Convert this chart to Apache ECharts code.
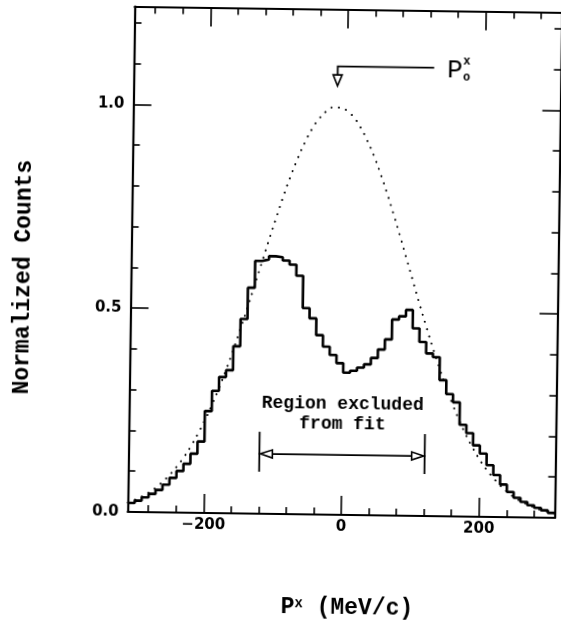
<!DOCTYPE html>
<html><head><meta charset="utf-8">
<script src="https://cdn.jsdelivr.net/npm/echarts@6/dist/echarts.min.js"></script>
<style>html,body{margin:0;padding:0;background:#fff;overflow:hidden}#c{width:561px;height:625px;transform:rotate(0.8deg);transform-origin:50% 50%}</style>
</head><body><div id="c"></div>
<script>
// histogram: left bin edges (width 10 MeV/c) and normalized counts
const binEdges = [-310,-300,-290,-280,-270,-260,-250,-240,-230,-220,-210,-200,-190,-180,-170,-160,-150,-140,-130,-120,-110,-100,-90,-80,-70,-60,-50,-40,-30,-20,-10,0,10,20,30,40,50,60,70,80,90,100,110,120,130,140,150,160,170,180,190,200,210,220,230,240,250,260,270,280,290,300];
const binEnd = 310;
const counts = [0.022,0.028,0.036,0.045,0.055,0.068,0.085,0.102,0.120,0.145,0.175,0.250,0.300,0.334,0.351,0.410,0.477,0.554,0.620,0.624,0.632,0.630,0.622,0.612,0.585,0.506,0.481,0.440,0.412,0.392,0.372,0.349,0.354,0.362,0.370,0.386,0.407,0.432,0.481,0.489,0.505,0.460,0.427,0.399,0.390,0.334,0.300,0.280,0.225,0.205,0.175,0.155,0.127,0.103,0.080,0.062,0.048,0.038,0.030,0.024,0.018,0.012];
// dotted fit curve
const fitX = [-310,-300,-290,-280,-270,-260,-250,-240,-230,-220,-210,-200,-190,-180,-170,-160,-150,-140,-130,-120,-110,-100,-90,-80,-70,-60,-50,-40,-30,-20,-10,0,10,20,30,40,50,60,70,80,90,100,110,120,130,140,150,160,170,180,190,200,210,220,230,240,250,260,270,280,290,300,310];
const fitY = [0.023,0.030,0.038,0.048,0.060,0.075,0.092,0.112,0.135,0.162,0.193,0.227,0.265,0.307,0.352,0.401,0.453,0.506,0.562,0.618,0.674,0.728,0.781,0.830,0.874,0.913,0.946,0.971,0.989,0.999,0.999,0.992,0.976,0.952,0.920,0.883,0.839,0.791,0.739,0.685,0.629,0.573,0.517,0.463,0.411,0.362,0.316,0.273,0.234,0.199,0.168,0.140,0.116,0.096,0.078,0.063,0.050,0.040,0.032,0.025,0.019,0.015,0.011];
// ticks
const xMajorTicks = [-200, 0, 200];
const xMinorTicks = [-280,-240,-160,-120,-80,-40,40,80,120,160,240,280];
const yMajorTicks = [0, 0.5, 1.0];
const yMinorTicks = [0.1,0.2,0.3,0.4,0.6,0.7,0.8,0.9,1.1,1.2];
const xMin = -310, xMax = 310, yMin = 0, yMax = 1.24;
// annotations (data coordinates)
const regionX = [-120, 120];
const regionArrowY = 0.147, regionBarY = [0.103, 0.201];
const regionText = ['Region excluded', 'from fit'];
const regionTextY = [0.270, 0.223];
const p0ArrowX = -14, p0LineY = 1.100, p0LineEndX = 126, p0HeadTop = 1.079, p0HeadTip = 1.052;
const p0LabelX = 145, p0LabelY = 1.095;

const chart = echarts.init(document.getElementById('c'), null, {renderer: 'canvas'});
const monoFont = "'Liberation Mono', 'Courier New', monospace";
const tickFont = "'DejaVu Sans', sans-serif";
const histData = binEdges.map((e, i) => [e, counts[i]]).concat([[binEnd, counts[counts.length - 1]]]);
const fitData = fitX.map((x, i) => [x, fitY[i]]);

function xAx(pos, vals, len, showLine, showLabel) {
  return {
    type: 'value', min: xMin, max: xMax, position: pos,
    axisLine: {show: showLine, onZero: false, lineStyle: {color: '#000', width: 2.2}},
    axisTick: {show: true, inside: true, length: len, customValues: vals, lineStyle: {color: '#000', width: 1.6}},
    axisLabel: {show: showLabel, customValues: vals, margin: 5, color: '#000', fontFamily: tickFont, fontWeight: 'bold', fontSize: 15,
      formatter: v => (v < 0 ? '\u2212' + Math.abs(v) : String(v))},
    splitLine: {show: false}
  };
}
function yAx(pos, vals, len, showLine, showLabel) {
  return {
    type: 'value', min: yMin, max: yMax, position: pos,
    axisLine: {show: showLine, onZero: false, lineStyle: {color: '#000', width: 2.2}},
    axisTick: {show: true, inside: true, length: len, customValues: vals, lineStyle: {color: '#000', width: 1.6}},
    axisLabel: {show: showLabel, customValues: vals, margin: 9, color: '#000', fontFamily: tickFont, fontWeight: 'bold', fontSize: 15,
      formatter: v => v.toFixed(1)},
    splitLine: {show: false}
  };
}

const xAxes = [
  xAx('bottom', xMajorTicks, 19, true, true),
  xAx('bottom', xMinorTicks, 7, false, false),
  xAx('top', xMajorTicks, 19, true, false),
  xAx('top', xMinorTicks, 7, false, false)
];
xAxes[0].name = '{p|P}{s|x}{p| (MeV/c)}';
xAxes[0].nameLocation = 'middle';
xAxes[0].nameGap = 82;
xAxes[0].nameTextStyle = {color: '#000', fontFamily: monoFont, fontSize: 23, fontWeight: 'bold', padding: [0, 0, 0, 14],
  rich: {p: {fontFamily: monoFont, fontSize: 23, fontWeight: 'bold', color: '#000'}, s: {fontFamily: monoFont, fontSize: 14, fontWeight: 'bold', color: '#000', verticalAlign: 'top'}}};
const yAxes = [
  yAx('left', yMajorTicks, 18, true, true),
  yAx('left', yMinorTicks, 7, false, false),
  yAx('right', yMajorTicks, 18, true, false),
  yAx('right', yMinorTicks, 7, false, false)
];
yAxes[0].name = 'Normalized Counts';
yAxes[0].nameLocation = 'middle';
yAxes[0].nameGap = 96;
yAxes[0].nameTextStyle = {color: '#000', fontFamily: monoFont, fontSize: 23, fontWeight: 'bold', padding: [0, 39, 0, 0]};

chart.setOption({
  animation: false,
  backgroundColor: '#fff',
  grid: {left: 130.5, top: 8.5, width: 427, height: 505.5, containLabel: false},
  xAxis: xAxes,
  yAxis: yAxes,
  series: [
    {type: 'line', name: 'fit', data: fitData, smooth: true, symbol: 'none', z: 2,
      lineStyle: {color: '#000', width: 2, type: [0.1, 7.5], cap: 'round'}},
    {type: 'line', name: 'data', data: histData, step: 'end', symbol: 'none', z: 3,
      lineStyle: {color: '#000', width: 2.6}}
  ]
});

function px(x, y) { return chart.convertToPixel({gridIndex: 0}, [x, y]); }
function drawAnnotations() {
  const g = [];
  const ls = {stroke: '#000', lineWidth: 1.8, fill: null};
  // region excluded
  const a = px(regionX[0], regionArrowY), b = px(regionX[1], regionArrowY);
  const b0 = px(regionX[0], regionBarY[0]), b1 = px(regionX[0], regionBarY[1]);
  const c0 = px(regionX[1], regionBarY[0]), c1 = px(regionX[1], regionBarY[1]);
  g.push({type: 'line', shape: {x1: b0[0], y1: b0[1], x2: b1[0], y2: b1[1]}, style: ls});
  g.push({type: 'line', shape: {x1: c0[0], y1: c0[1], x2: c1[0], y2: c1[1]}, style: ls});
  const hl = 13, hw = 4;
  g.push({type: 'line', shape: {x1: a[0] + hl, y1: a[1], x2: b[0] - hl, y2: b[1]}, style: ls});
  g.push({type: 'polygon', shape: {points: [[a[0] + 1, a[1]], [a[0] + hl, a[1] - hw], [a[0] + hl, a[1] + hw]]}, style: {stroke: '#000', lineWidth: 1.6, fill: '#fff'}});
  g.push({type: 'polygon', shape: {points: [[b[0] - 1, b[1]], [b[0] - hl, b[1] - hw], [b[0] - hl, b[1] + hw]]}, style: {stroke: '#000', lineWidth: 1.6, fill: '#fff'}});
  regionText.forEach((t, i) => {
    const p = px(0, regionTextY[i]);
    g.push({type: 'text', x: p[0], y: p[1], style: {text: t, fill: '#000', font: "bold 18px " + monoFont, align: 'center', verticalAlign: 'middle'}});
  });
  // P0 arrow
  const q0 = px(p0ArrowX, p0LineY), q1 = px(p0LineEndX, p0LineY);
  const h0 = px(p0ArrowX, p0HeadTop), h1 = px(p0ArrowX, p0HeadTip);
  g.push({type: 'polyline', shape: {points: [[q1[0], q1[1]], [q0[0], q0[1]], [h0[0], h0[1]]]}, style: ls});
  g.push({type: 'polygon', shape: {points: [[h0[0] - 4.5, h0[1]], [h0[0] + 4.5, h0[1]], [h1[0], h1[1]]]}, style: {stroke: '#000', lineWidth: 1.6, fill: '#fff'}});
  const pl = px(p0LabelX, p0LabelY);
  g.push({type: 'text', x: pl[0], y: pl[1], style: {text: 'P', fill: '#000', font: "26px " + monoFont, align: 'left', verticalAlign: 'middle'}});
  g.push({type: 'text', x: pl[0] + 16, y: pl[1] - 9, style: {text: 'x', fill: '#000', font: "bold 12px " + monoFont, align: 'left', verticalAlign: 'middle'}});
  g.push({type: 'text', x: pl[0] + 16, y: pl[1] + 7, style: {text: 'o', fill: '#000', font: "bold 12px " + monoFont, align: 'left', verticalAlign: 'middle'}});
  chart.setOption({graphic: g});
}
drawAnnotations();
</script>
</body></html>
